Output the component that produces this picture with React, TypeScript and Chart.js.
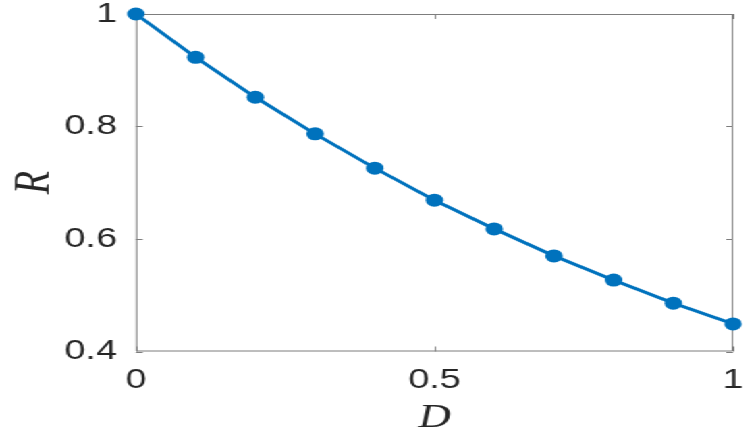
import React, { useEffect, useRef } from "react";
import { Chart, registerables } from "chart.js";

Chart.register(...registerables);

const dValues = [0, 0.1, 0.2, 0.3, 0.4, 0.5, 0.6, 0.7, 0.8, 0.9, 1.0];
const rValues = [1.0, 0.923, 0.852, 0.787, 0.726, 0.669, 0.618, 0.570, 0.527, 0.486, 0.449];
const xTicks = [0, 0.5, 1];
const xTickLabels = ["0", "0.5", "1"];
const yTicks = [0.4, 0.6, 0.8, 1];
const yTickLabels = ["0.4", "0.6", "0.8", "1"];

const STRETCH = 1.35;
const W = 560;
const H = 432;

const boxPlugin = {
  id: "matlabBox",
  beforeDatasetsDraw(chart: any) {
    const { ctx, chartArea } = chart;
    const { left, right, top, bottom } = chartArea;
    const xs = chart.scales.x;
    const ys = chart.scales.y;
    const tl = 5;
    ctx.save();
    ctx.strokeStyle = "#7d7d7d";
    ctx.lineWidth = 1;
    ctx.beginPath();
    ctx.rect(left + 0.5, top + 0.5, right - left - 1, bottom - top - 1);
    for (const v of xTicks) {
      const px = Math.round(xs.getPixelForValue(v)) + 0.5;
      ctx.moveTo(px, bottom);
      ctx.lineTo(px, bottom - tl);
      ctx.moveTo(px, top);
      ctx.lineTo(px, top + tl);
    }
    for (const v of yTicks) {
      const py = Math.round(ys.getPixelForValue(v)) + 0.5;
      ctx.moveTo(left, py);
      ctx.lineTo(left + tl, py);
      ctx.moveTo(right, py);
      ctx.lineTo(right - tl, py);
    }
    ctx.stroke();
    ctx.restore();
  },
};

export default function App() {
  const ref = useRef<HTMLCanvasElement | null>(null);
  useEffect(() => {
    if (!ref.current) return;
    const chart = new Chart(ref.current, {
      type: "line",
      data: {
        datasets: [
          {
            data: dValues.map((d, i) => ({ x: d, y: rValues[i] })),
            borderColor: "#0072BD",
            backgroundColor: "#0072BD",
            borderWidth: 3,
            pointRadius: 6.5,
            pointBorderWidth: 0,
            pointBackgroundColor: "#0072BD",
            tension: 0,
            clip: false as any,
          },
        ],
      },
      options: {
        animation: false,
        responsive: true,
        maintainAspectRatio: false,
        layout: { padding: { left: 0, right: 17, top: 14, bottom: 0 } },
        plugins: { legend: { display: false }, tooltip: { enabled: false } },
        scales: {
          x: {
            type: "linear",
            min: 0,
            max: 1,
            grid: { display: false, drawTicks: false },
            border: { display: false },
            afterBuildTicks: (s: any) => {
              s.ticks = xTicks.map((v) => ({ value: v }));
            },
            afterFit: (s: any) => {
              s.height = 80.5;
              s.paddingLeft = 0;
              s.paddingRight = 0;
            },
            ticks: {
              autoSkip: false,
              maxRotation: 0,
              padding: 12,
              color: "#262626",
              font: { family: "'Liberation Sans', Arial, sans-serif", size: 28 },
              callback: (_v: any, i: number) => xTickLabels[i],
            },
            title: {
              display: true,
              text: "D",
              color: "#262626",
              padding: { top: 0, bottom: -6 },
              font: { family: "'Liberation Serif', 'Times New Roman', serif", size: 33, style: "italic" },
            },
          },
          y: {
            type: "linear",
            min: 0.4,
            max: 1,
            grid: { display: false, drawTicks: false },
            border: { display: false },
            afterBuildTicks: (s: any) => {
              s.ticks = yTicks.map((v) => ({ value: v }));
            },
            afterFit: (s: any) => {
              s.width = 100.7;
              s.paddingTop = 0;
              s.paddingBottom = 0;
            },
            ticks: {
              autoSkip: false,
              padding: 14,
              color: "#262626",
              font: { family: "'Liberation Sans', Arial, sans-serif", size: 28 },
              callback: (_v: any, i: number) => yTickLabels[i],
            },
            title: {
              display: true,
              text: "R",
              color: "#262626",
              padding: { top: 3, bottom: 0 },
              font: { family: "'Liberation Serif', 'Times New Roman', serif", size: 38, style: "italic" },
            },
          },
        },
      },
      plugins: [boxPlugin],
    });
    return () => chart.destroy();
  }, []);

  return (
    <div
      style={{
        position: "fixed",
        left: 0,
        top: 0,
        width: W,
        height: H,
        transform: `scaleX(${STRETCH})`,
        transformOrigin: "0 0",
        background: "#fff",
      }}
    >
      <canvas ref={ref} />
    </div>
  );
}
